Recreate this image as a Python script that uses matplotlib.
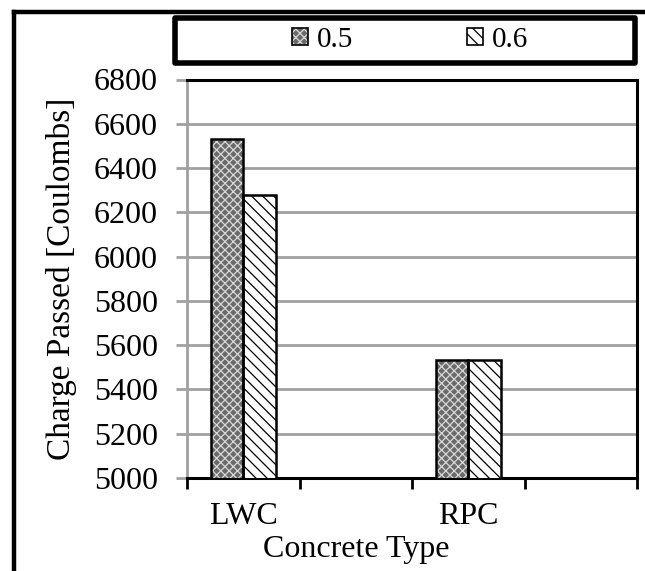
import matplotlib
matplotlib.use('Agg')
import matplotlib.pyplot as plt
import numpy as np
from matplotlib.patches import Rectangle, Patch
from matplotlib.lines import Line2D
from matplotlib.legend_handler import HandlerTuple

# ---- data ----
categories = ['LWC', '', 'RPC', '']
series_names = ['0.5', '0.6']
values_05 = [6532, np.nan, 5533, np.nan]
values_06 = [6280, np.nan, 5533, np.nan]
y_ticks = [5000, 5200, 5400, 5600, 5800, 6000, 6200, 6400, 6600, 6800]
x_label = 'Concrete Type'
y_label = 'Charge Passed [Coulombs]'

plt.rcParams['font.family'] = ['Liberation Serif', 'DejaVu Serif']
plt.rcParams['hatch.linewidth'] = 0.9

W, H = 645, 571
fig = plt.figure(figsize=(W / 100, H / 100), dpi=100)
fig.patch.set_facecolor('white')

ax = fig.add_axes([187 / W, 93 / H, 450 / W, 398.5 / H])

x = np.arange(len(categories))
bw = 0.29
G_FACE, G_HATCH = '#6a6a6a', '#d8d8d8'
# series 0.5: gray checker texture + black outline
ax.bar(x - bw / 2, values_05, bw, facecolor=G_FACE, edgecolor=G_HATCH,
       hatch='xxxx', linewidth=0, zorder=3)
ax.bar(x - bw / 2, values_05, bw, fill=False, edgecolor='black', linewidth=1.8, zorder=4)
# series 0.6: white with diagonal lines
ax.bar(x + bw / 2, values_06, bw, facecolor='white', edgecolor='black',
       hatch='\\\\\\', linewidth=1.8, zorder=3)

ax.set_xlim(-0.5, len(categories) - 0.5)
ax.set_ylim(y_ticks[0], y_ticks[-1])
ax.set_yticks(y_ticks)
ax.yaxis.grid(True, color='#a0a0a0', linewidth=2, zorder=0)
ax.set_axisbelow(True)

# x ticks at boundaries, labels at centers
ax.set_xticks(np.arange(-0.5, len(categories), 1.0))
ax.set_xticklabels([])
ax.set_xticks(x, minor=True)
ax.set_xticklabels(categories, minor=True)
ax.tick_params(axis='x', which='major', length=8, width=2, color='black', direction='out')
ax.tick_params(axis='x', which='minor', length=0, pad=17, labelsize=23)
ax.tick_params(axis='y', length=8, width=2, color='#a0a0a0', direction='out', pad=13, labelsize=23)

for s in ['top', 'right', 'bottom']:
    ax.spines[s].set_color('black')
    ax.spines[s].set_linewidth(2.2)
ax.spines['left'].set_color('#a0a0a0')
ax.spines['left'].set_linewidth(2)

ax.set_ylabel(y_label, fontsize=24, labelpad=12)
fig.text(356 / W, 1 - 549 / H, x_label, fontsize=23, ha='center', va='center')

# legend
h05 = (Patch(facecolor=G_FACE, edgecolor=G_HATCH, hatch='xxxx', linewidth=0),
       Patch(fill=False, edgecolor='black', linewidth=1.2))
h06 = Patch(facecolor='white', edgecolor='black', hatch='\\\\\\', linewidth=1.2)
leg = fig.legend([h05, h06], series_names, loc='center', bbox_to_anchor=(410 / W, 1 - 40 / H),
                 ncol=2, frameon=False, fontsize=21, handlelength=0.55, handleheight=0.55,
                 handletextpad=0.3, columnspacing=3.9,
                 handler_map={tuple: HandlerTuple(ndivide=1, pad=0)})

# legend box
fig.patches.append(Rectangle((175 / W, 1 - 63 / H), 460 / W, 45.5 / H, transform=fig.transFigure,
                             fill=False, edgecolor='black', linewidth=4, joinstyle='round'))
# outer border (top and left)
fig.lines.append(Line2D([14 / W, 1.05], [1 - 11.5 / H, 1 - 11.5 / H], transform=fig.transFigure,
                        color='black', linewidth=3.2, solid_capstyle='projecting'))
fig.lines.append(Line2D([14 / W, 14 / W], [1 - 11.5 / H, -0.05], transform=fig.transFigure,
                        color='black', linewidth=3.2, solid_capstyle='projecting'))

fig.savefig('out.png', dpi=100)
